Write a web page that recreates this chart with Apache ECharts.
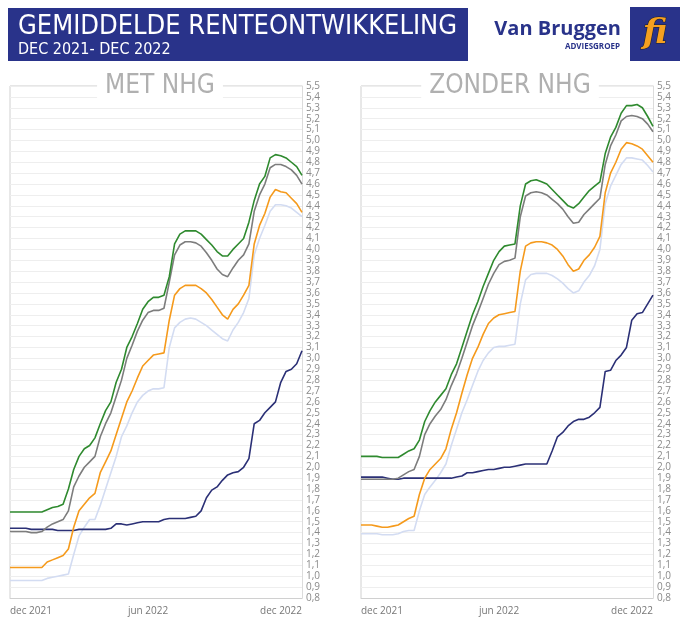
<!DOCTYPE html>
<html><head><meta charset="utf-8">
<script src="https://cdn.jsdelivr.net/npm/echarts@6/dist/echarts.min.js"></script>
<style>html,body{margin:0;padding:0;background:#fff}#c{width:683px;height:621px}</style>
</head><body><div id="c"></div>
<script>
const xTickLabels = {0:'dec 2021', 26:'jun 2022', 55:'dec 2022'};
const weeks = Array.from({length:56}, (_, i) => String(i));

// MET NHG
const metGreen = [1.59,1.59,1.59,1.59,1.59,1.59,1.59,1.61,1.63,1.64,1.66,1.8,1.98,2.1,2.17,2.2,2.27,2.4,2.52,2.6,2.78,2.9,3.1,3.2,3.32,3.45,3.52,3.56,3.56,3.58,3.75,4.05,4.14,4.17,4.17,4.17,4.14,4.09,4.04,3.98,3.94,3.94,4.0,4.05,4.1,4.25,4.45,4.6,4.67,4.84,4.87,4.86,4.84,4.8,4.76,4.68];
const metGray = [1.41,1.41,1.41,1.41,1.40,1.40,1.41,1.45,1.48,1.5,1.52,1.6,1.82,1.92,2.0,2.05,2.1,2.28,2.4,2.5,2.65,2.8,3.0,3.12,3.25,3.35,3.42,3.44,3.44,3.46,3.7,3.95,4.04,4.07,4.07,4.06,4.03,3.97,3.9,3.82,3.77,3.75,3.83,3.9,3.95,4.05,4.35,4.5,4.6,4.75,4.78,4.78,4.76,4.73,4.68,4.6];
const metOrange = [1.08,1.08,1.08,1.08,1.08,1.08,1.08,1.13,1.15,1.17,1.19,1.25,1.45,1.6,1.66,1.72,1.76,1.95,2.05,2.15,2.3,2.45,2.6,2.7,2.82,2.93,2.98,3.03,3.04,3.05,3.35,3.58,3.64,3.67,3.67,3.67,3.64,3.6,3.54,3.47,3.4,3.36,3.45,3.5,3.58,3.67,4.05,4.22,4.33,4.48,4.55,4.53,4.52,4.47,4.42,4.34];
const metLight = [0.96,0.96,0.96,0.96,0.96,0.96,0.96,0.98,0.99,1.0,1.01,1.02,1.2,1.37,1.45,1.52,1.52,1.65,1.8,1.95,2.1,2.28,2.38,2.5,2.6,2.66,2.7,2.72,2.72,2.73,3.1,3.28,3.33,3.36,3.37,3.36,3.33,3.3,3.26,3.22,3.18,3.16,3.26,3.33,3.42,3.55,3.95,4.1,4.22,4.35,4.41,4.41,4.4,4.38,4.34,4.3];
const metNavy = [1.44,1.44,1.44,1.44,1.43,1.43,1.43,1.43,1.43,1.42,1.42,1.42,1.42,1.43,1.43,1.43,1.43,1.43,1.43,1.44,1.48,1.48,1.47,1.48,1.49,1.5,1.5,1.5,1.5,1.52,1.53,1.53,1.53,1.53,1.54,1.55,1.6,1.72,1.79,1.82,1.88,1.93,1.95,1.96,2.0,2.08,2.4,2.43,2.5,2.55,2.6,2.78,2.88,2.9,2.95,3.07];

// ZONDER NHG
const zonGreen = [2.1,2.1,2.1,2.1,2.09,2.09,2.09,2.09,2.12,2.15,2.17,2.25,2.42,2.52,2.6,2.66,2.72,2.85,2.95,3.1,3.25,3.4,3.52,3.66,3.78,3.9,3.98,4.03,4.04,4.05,4.4,4.6,4.63,4.64,4.62,4.6,4.55,4.5,4.45,4.4,4.38,4.42,4.48,4.54,4.58,4.62,4.88,5.03,5.12,5.25,5.32,5.32,5.33,5.3,5.22,5.13];
const zonGray = [1.89,1.89,1.89,1.89,1.89,1.89,1.89,1.9,1.93,1.96,1.98,2.1,2.3,2.4,2.47,2.53,2.62,2.75,2.86,3.0,3.15,3.3,3.42,3.55,3.68,3.78,3.86,3.89,3.9,3.92,4.3,4.49,4.52,4.53,4.52,4.5,4.46,4.42,4.37,4.3,4.24,4.25,4.32,4.37,4.42,4.47,4.78,4.95,5.05,5.18,5.22,5.23,5.22,5.2,5.15,5.08];
const zonOrange = [1.47,1.47,1.47,1.46,1.45,1.45,1.46,1.47,1.5,1.53,1.55,1.75,1.9,1.98,2.03,2.08,2.17,2.35,2.5,2.68,2.85,3.0,3.1,3.22,3.32,3.37,3.4,3.41,3.42,3.43,3.8,4.03,4.06,4.07,4.07,4.06,4.04,4.0,3.94,3.86,3.8,3.82,3.9,3.95,4.02,4.12,4.52,4.7,4.8,4.92,4.98,4.97,4.95,4.92,4.86,4.8];
const zonLight = [1.39,1.39,1.39,1.39,1.38,1.38,1.38,1.39,1.41,1.42,1.42,1.6,1.75,1.82,1.88,1.95,2.03,2.2,2.35,2.5,2.62,2.75,2.88,2.98,3.05,3.1,3.11,3.11,3.12,3.13,3.5,3.72,3.77,3.78,3.78,3.78,3.76,3.73,3.69,3.64,3.6,3.62,3.7,3.76,3.85,4.0,4.42,4.58,4.68,4.78,4.84,4.84,4.83,4.82,4.77,4.71];
const zonNavy = [1.91,1.91,1.91,1.91,1.91,1.9,1.89,1.89,1.9,1.9,1.9,1.9,1.9,1.9,1.9,1.9,1.9,1.9,1.91,1.92,1.95,1.95,1.96,1.97,1.98,1.98,1.99,2.0,2.0,2.01,2.02,2.03,2.03,2.03,2.03,2.03,2.15,2.28,2.32,2.38,2.42,2.44,2.44,2.46,2.5,2.55,2.88,2.89,2.98,3.03,3.1,3.35,3.41,3.42,3.5,3.58];

const colors = {green:'#2f8a2f', gray:'#7d7d7d', orange:'#f59a1c', light:'#d3dcf2', navy:'#2b3076'};
const chart = echarts.init(document.getElementById('c'));
const grids = [{left:10, width:292, top:86, height:512}, {left:361, width:292, top:86, height:512}];
function xAxis(i){return {type:'category', gridIndex:i, data:weeks, boundaryGap:false,
  axisLine:{lineStyle:{color:'#d0d0d0'}}, axisTick:{show:false},
  axisLabel:{interval:(idx)=>xTickLabels[idx]!==undefined, formatter:(v,idx)=>xTickLabels[idx]||'', color:'#777', fontSize:10, fontFamily:'Open Sans', alignMinLabel:'left', alignMaxLabel:'right', margin:8},
  splitLine:{show:false}};}
function yAxis(i){return {type:'value', gridIndex:i, position:'right', min:0.8, max:5.5, interval:0.1,
  axisLine:{show:true, lineStyle:{color:'#dcdcdc'}}, axisTick:{show:false},
  axisLabel:{color:'#8a8a8a', fontSize:10, fontFamily:'Open Sans', margin:4, formatter:v=>v.toFixed(1).replace('.',',')},
  splitLine:{lineStyle:{color:'#eeeeee', width:1}}};}
function s(i, data, c){return {type:'line', xAxisIndex:i, yAxisIndex:i, data, symbol:'none', lineStyle:{color:c, width:1.6}, itemStyle:{color:c}, animation:false, z:3};}
chart.setOption({
  animation:false,
  grid: grids,
  xAxis:[xAxis(0), xAxis(1)],
  yAxis:[yAxis(0), yAxis(1)],
  series:[
    s(0,metLight,colors.light), s(0,metNavy,colors.navy), s(0,metOrange,colors.orange), s(0,metGray,colors.gray), s(0,metGreen,colors.green),
    s(1,zonLight,colors.light), s(1,zonNavy,colors.navy), s(1,zonOrange,colors.orange), s(1,zonGray,colors.gray), s(1,zonGreen,colors.green)
  ],
  graphic:[
    {type:'line', shape:{x1:10,y1:86,x2:10,y2:598}, style:{stroke:'#d0d0d0', lineWidth:1}},
    {type:'line', shape:{x1:361,y1:86,x2:361,y2:598}, style:{stroke:'#d0d0d0', lineWidth:1}},
    {type:'line', shape:{x1:10,y1:86,x2:302,y2:86}, style:{stroke:'#cccccc', lineWidth:1}},
    {type:'line', shape:{x1:361,y1:86,x2:653,y2:86}, style:{stroke:'#cccccc', lineWidth:1}},
    {type:'text', x:160, y:86, style:{text:'MET NHG', font:'26px "DejaVu Sans Condensed"', fill:'#b0b0b0', align:'center', verticalAlign:'middle', backgroundColor:'#fff', padding:[0,8]}, z:10},
    {type:'text', x:510, y:86, style:{text:'ZONDER NHG', font:'26px "DejaVu Sans Condensed"', fill:'#b0b0b0', align:'center', verticalAlign:'middle', backgroundColor:'#fff', padding:[0,8]}, z:10},
    {type:'rect', shape:{x:8,y:8,width:460,height:53}, style:{fill:'#29338a'}},
    {type:'text', x:18, y:27, style:{text:'GEMIDDELDE RENTEONTWIKKELING', font:'27px "DejaVu Sans Condensed"', fill:'#fff', verticalAlign:'middle'}},
    {type:'text', x:18, y:50, style:{text:'DEC 2021- DEC 2022', font:'16px "DejaVu Sans Condensed"', fill:'#fff', verticalAlign:'middle'}},
    {type:'text', x:621, y:29, style:{text:'Van Bruggen', font:'bold 20px "Open Sans"', fill:'#29338a', align:'right', verticalAlign:'middle'}},
    {type:'text', x:620, y:47, style:{text:'ADVIESGROEP', font:'bold 8px "Open Sans"', fill:'#29338a', align:'right', verticalAlign:'middle'}},
    {type:'rect', shape:{x:630,y:7,width:50,height:54}, style:{fill:'#29338a'}},
    {type:'text', x:655, y:34, style:{text:'fi', font:'italic bold 34px "DejaVu Serif"', fill:'#f5a020', stroke:'#222', lineWidth:1, align:'center', verticalAlign:'middle'}}
  ]
});
</script></body></html>
